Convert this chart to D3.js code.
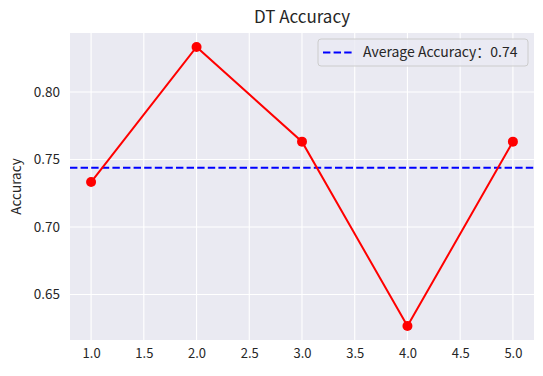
<!DOCTYPE html>
<html>
<head>
<meta charset="utf-8">
<script src="https://cdn.jsdelivr.net/npm/d3@7"></script>
<style>
  body { margin: 0; background: #fff; }
  svg { display: block; }
  text { font-family: "Noto Sans CJK SC", "Noto Sans", sans-serif; fill: #262626; }
</style>
</head>
<body>
<svg id="chart"></svg>
<script>
const folds = [1, 2, 3, 4, 5];
const accuracy = [0.7333, 0.8333, 0.7632, 0.6267, 0.7632];
const xTicks = [1.0, 1.5, 2.0, 2.5, 3.0, 3.5, 4.0, 4.5, 5.0];
const yTicks = [0.65, 0.70, 0.75, 0.80];

const width = 543, height = 376;
const margin = { top: 33, right: 9, bottom: 36, left: 70 };
const innerWidth = width - margin.left - margin.right;
const innerHeight = height - margin.top - margin.bottom;

const svg = d3.select('#chart')
    .attr('width', width)
    .attr('height', height);

const mean = d3.mean(accuracy);
const yMin = d3.min(accuracy), yMax = d3.max(accuracy);
const pad = (yMax - yMin) * 0.05;   // matplotlib default margin

const xScale = d3.scaleLinear()
    .domain([0.8, 5.2])
    .range([0, innerWidth]);

const yScale = d3.scaleLinear()
    .domain([yMin - pad, yMax + pad])
    .range([innerHeight, 0]);

const g = svg.append('g')
    .attr('transform', `translate(${margin.left},${margin.top})`);

g.append('rect')
    .attr('width', innerWidth)
    .attr('height', innerHeight)
    .attr('fill', '#eaeaf2');

// grid
g.selectAll('.vgrid').data(xTicks)
    .enter().append('line')
        .attr('x1', d => xScale(d)).attr('x2', d => xScale(d))
        .attr('y1', 0).attr('y2', innerHeight)
        .attr('stroke', '#fff').attr('stroke-width', 1.1);

g.selectAll('.hgrid').data(yTicks)
    .enter().append('line')
        .attr('y1', d => yScale(d)).attr('y2', d => yScale(d))
        .attr('x1', 0).attr('x2', innerWidth)
        .attr('stroke', '#fff').attr('stroke-width', 1.1);

// axes (labels only)
const xAxisGroup = g.append('g')
    .attr('transform', `translate(0,${innerHeight})`)
    .call(d3.axisBottom(xScale).tickValues(xTicks).tickFormat(d3.format('.1f')).tickSize(0).tickPadding(9));
xAxisGroup.select('.domain').remove();
xAxisGroup.selectAll('text').style('font-size', '13px').attr('fill', '#262626');

const yAxisGroup = g.append('g')
    .call(d3.axisLeft(yScale).tickValues(yTicks).tickFormat(d3.format('.2f')).tickSize(0).tickPadding(10));
yAxisGroup.select('.domain').remove();
yAxisGroup.selectAll('text').style('font-size', '13.5px').attr('fill', '#262626');

// average line
g.append('line')
    .attr('x1', 0).attr('x2', innerWidth)
    .attr('y1', yScale(mean)).attr('y2', yScale(mean))
    .attr('stroke', 'blue')
    .attr('stroke-width', 2)
    .attr('stroke-dasharray', '7.4,3.2');

// accuracy line
const line = d3.line()
    .x((d, i) => xScale(folds[i]))
    .y(d => yScale(d));

g.append('path')
    .datum(accuracy)
    .attr('d', line)
    .attr('fill', 'none')
    .attr('stroke', 'red')
    .attr('stroke-width', 2);

g.selectAll('circle').data(accuracy)
    .enter().append('circle')
        .attr('cx', (d, i) => xScale(folds[i]))
        .attr('cy', d => yScale(d))
        .attr('r', 5)
        .attr('fill', 'red');

// legend
const legend = g.append('g')
    .attr('transform', `translate(${innerWidth - 216},6)`);
legend.append('rect')
    .attr('width', 210).attr('height', 27)
    .attr('rx', 3)
    .attr('fill', '#eaeaf2')
    .attr('fill-opacity', 0.8)
    .attr('stroke', '#cccccc');
legend.append('line')
    .attr('x1', 5).attr('x2', 34)
    .attr('y1', 13.5).attr('y2', 13.5)
    .attr('stroke', 'blue')
    .attr('stroke-width', 2)
    .attr('stroke-dasharray', '7.4,3.2');
legend.append('text')
    .attr('x', 45).attr('y', 13.5)
    .attr('dy', '0.35em')
    .style('font-size', '14px')
    .text(`Average Accuracy：${mean.toFixed(2)}`);

// title & y label
svg.append('text')
    .attr('x', margin.left + innerWidth / 2)
    .attr('y', 23)
    .attr('text-anchor', 'middle')
    .style('font-size', '17px')
    .text('DT Accuracy');

svg.append('text')
    .attr('transform', `translate(21,${margin.top + innerHeight / 2}) rotate(-90)`)
    .attr('text-anchor', 'middle')
    .style('font-size', '13.5px')
    .text('Accuracy');
</script>
</body>
</html>
